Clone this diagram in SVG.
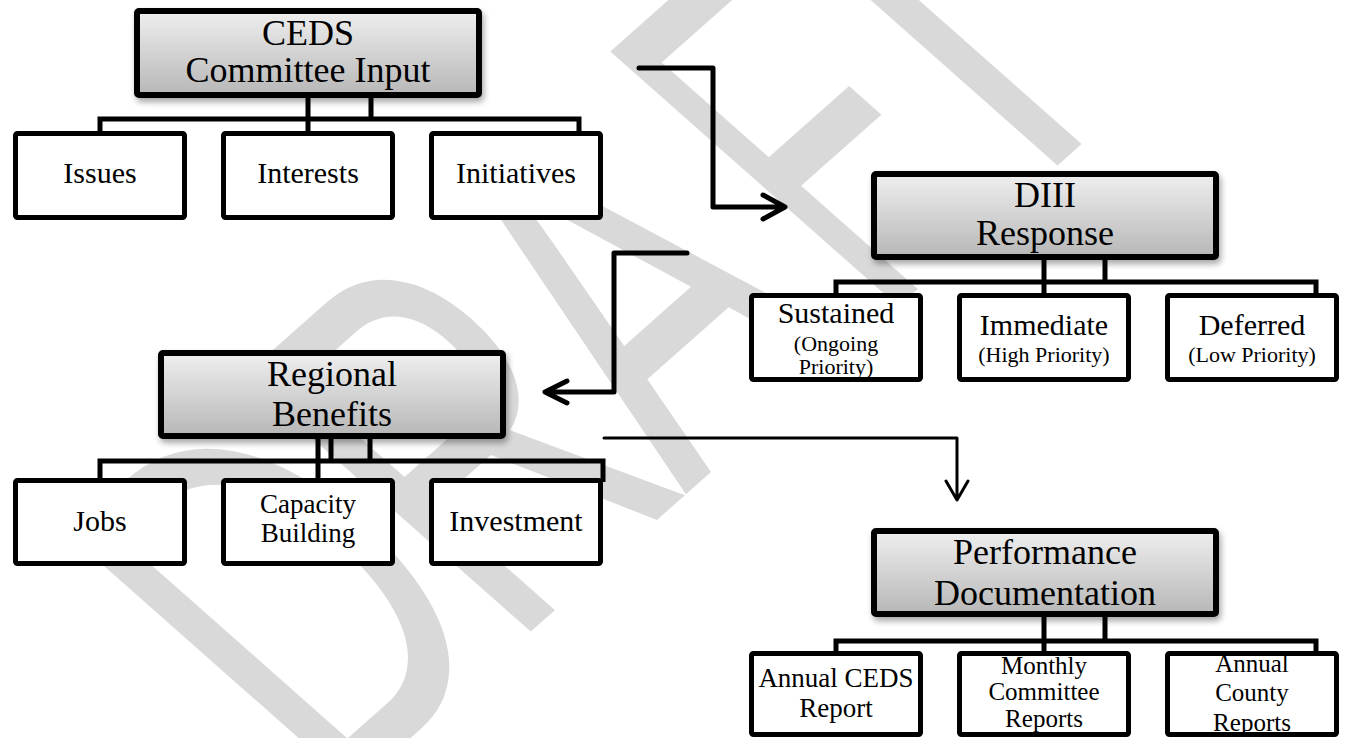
<svg xmlns="http://www.w3.org/2000/svg" width="1350" height="738" viewBox="0 0 1350 738">
<defs>
<linearGradient id="hdrg" x1="0" y1="0" x2="0" y2="1"><stop offset="0" stop-color="#efefef"/><stop offset="1" stop-color="#b7b7b7"/></linearGradient>
<filter id="sh" x="-10%" y="-10%" width="125%" height="140%"><feGaussianBlur in="SourceAlpha" stdDeviation="3"/><feOffset dx="2" dy="4"/><feComponentTransfer><feFuncA type="linear" slope="0.35"/></feComponentTransfer><feMerge><feMergeNode/><feMergeNode in="SourceGraphic"/></feMerge></filter>
</defs>
<style>
.hdr{fill:url(#hdrg);stroke:#000;stroke-width:6;filter:url(#sh)}
.box{fill:#fff;stroke:#000;stroke-width:5}
.t{font-family:"Liberation Serif","Times New Roman",serif;fill:#000;text-anchor:middle}
.h{font-size:36px}
.c{font-size:30px}
.s{font-size:22px}
.p{font-size:27px}
.p2{font-size:25px}
.con{fill:none;stroke:#000;stroke-width:5}
.arr{fill:none;stroke:#000;stroke-width:5;stroke-linecap:round;stroke-linejoin:round}
.thin{stroke-width:3}
.wm{font-family:"Liberation Sans",Arial,sans-serif;font-size:592px;fill:#d9d9d9;text-anchor:middle}
</style>
<rect width="1350" height="738" fill="#fff"/>
<g id="watermark" transform="translate(1067 157) scale(1 0.885) rotate(-45)">
<text class="wm" transform="scale(0.62 1)" x="-1460 -1058 -673" y="0">DRA</text>
<text class="wm" transform="scale(0.5 1)" x="-345" y="0">F</text>
<text class="wm" transform="scale(0.62 1)" x="6" y="0">T</text>
</g>
<g id="connectors">
<path class="con" d="M100,133 V119 H579 V133 M308,98 V133 M371,98 V119"/>
<path class="con" d="M836,295 V282 H1316 V295 M1044,259 V295 M1105,259 V282"/>
<path class="con" d="M100,480 V461 H603 V482 M318,438 V480 M331,438 V461 M370,438 V461"/>
<path class="con" d="M836,653 V641 H1316 V653 M1044,616 V653 M1105,616 V641"/>
<path class="arr" d="M639,68 H713 V207 H783 M763,195 L785,207 L763,219"/>
<path class="arr" d="M687,253 H614 V392 H546 M567,381 L545,392 L567,403"/>
<path class="arr thin" d="M604,438 H957 V499 M946,481 L957,500 L968,481"/>
</g>
<g id="ceds"><rect class="hdr" x="137" y="11" width="342" height="84" rx="2"/><text class="t h" x="308" y="45">CEDS</text><text class="t h" x="308" y="82">Committee Input</text></g>
<g id="issues"><rect class="box" x="15.5" y="133.5" width="169" height="84" rx="2"/><text class="t c" x="100" y="183">Issues</text></g>
<g id="interests"><rect class="box" x="223.5" y="133.5" width="169" height="84" rx="2"/><text class="t c" x="308" y="183">Interests</text></g>
<g id="initiatives"><rect class="box" x="431.5" y="133.5" width="169" height="84" rx="2"/><text class="t c" x="516" y="183">Initiatives</text></g>
<g id="diii"><rect class="hdr" x="874" y="174" width="342" height="83" rx="2"/><text class="t h" x="1045" y="207">DIII</text><text class="t h" x="1045" y="245">Response</text></g>
<g id="sustained"><rect class="box" x="751.5" y="295.5" width="169" height="84" rx="2"/><text class="t c" x="836" y="323">Sustained</text><text class="t s" x="836" y="351">(Ongoing</text><text class="t s" x="836" y="374">Priority)</text></g>
<g id="immediate"><rect class="box" x="959.5" y="295.5" width="169" height="84" rx="2"/><text class="t c" x="1044" y="335">Immediate</text><text class="t s" x="1044" y="362">(High Priority)</text></g>
<g id="deferred"><rect class="box" x="1167.5" y="295.5" width="169" height="84" rx="2"/><text class="t c" x="1252" y="335">Deferred</text><text class="t s" x="1252" y="362">(Low Priority)</text></g>
<g id="regional"><rect class="hdr" x="161" y="353" width="342" height="83" rx="2"/><text class="t h" x="332" y="386">Regional</text><text class="t h" x="332" y="426">Benefits</text></g>
<g id="jobs"><rect class="box" x="15.5" y="480.5" width="169" height="83" rx="2"/><text class="t c" x="100" y="531">Jobs</text></g>
<g id="capacity"><rect class="box" x="223.5" y="480.5" width="169" height="83" rx="2"/><text class="t p" x="308" y="513">Capacity</text><text class="t p" x="308" y="542">Building</text></g>
<g id="investment"><rect class="box" x="431.5" y="480.5" width="169" height="83" rx="2"/><text class="t c" x="516" y="531">Investment</text></g>
<g id="performance"><rect class="hdr" x="874" y="531" width="342" height="83" rx="2"/><text class="t h" x="1045" y="564">Performance</text><text class="t h" x="1045" y="605">Documentation</text></g>
<g id="annual-ceds"><rect class="box" x="751.5" y="653.5" width="169" height="81" rx="2"/><text class="t p" x="836" y="687">Annual CEDS</text><text class="t p" x="836" y="717">Report</text></g>
<g id="monthly"><rect class="box" x="959.5" y="653.5" width="169" height="81" rx="2"/><text class="t p2" x="1044" y="674">Monthly</text><text class="t p2" x="1044" y="700">Committee</text><text class="t p2" x="1044" y="727">Reports</text></g>
<g id="annual-county"><rect class="box" x="1167.5" y="653.5" width="169" height="81" rx="2"/><text class="t p2" x="1252" y="672">Annual</text><text class="t p2" x="1252" y="701">County</text><text class="t p2" x="1252" y="731">Reports</text></g>
</svg>
